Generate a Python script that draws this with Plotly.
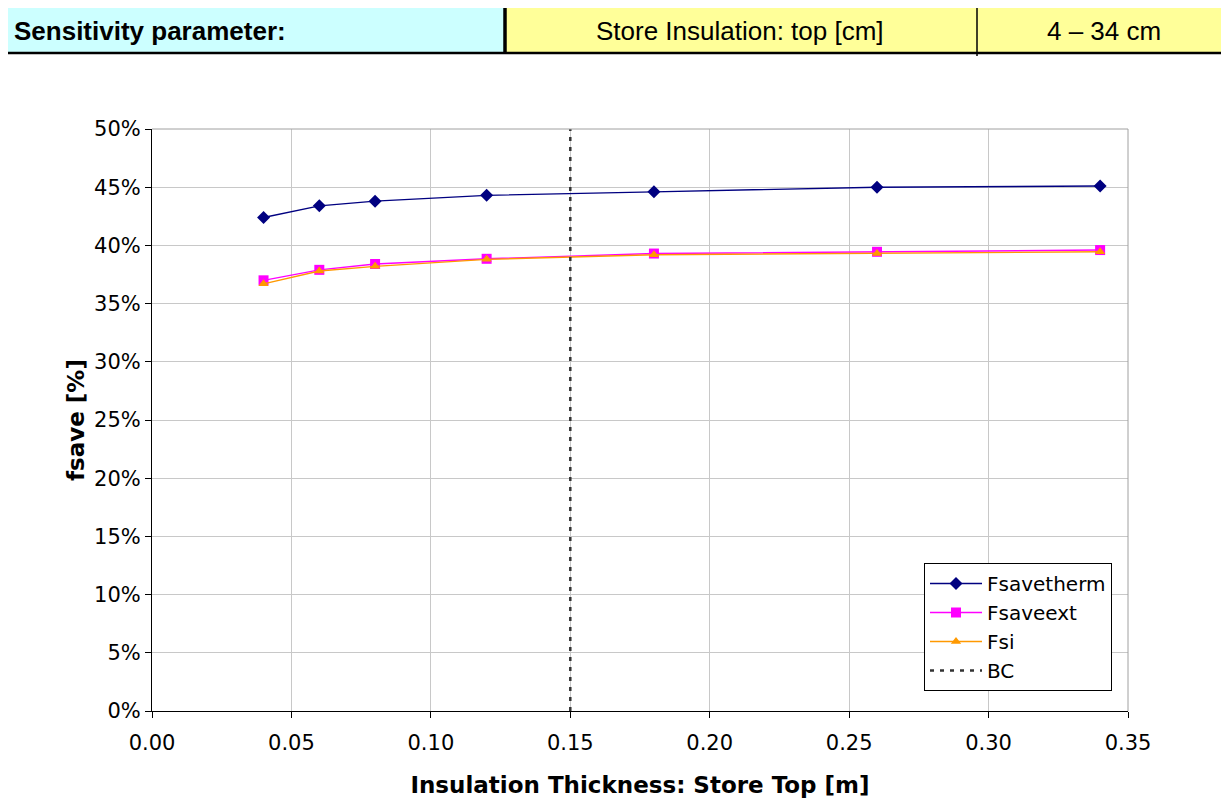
import plotly.graph_objects as go

thickness = [0.04, 0.06, 0.08, 0.12, 0.18, 0.26, 0.34]
fsavetherm = [0.424, 0.434, 0.438, 0.443, 0.446, 0.450, 0.451]
fsaveext = [0.370, 0.379, 0.384, 0.3885, 0.393, 0.3945, 0.396]
fsi = [0.367, 0.378, 0.382, 0.388, 0.392, 0.393, 0.3945]
bc_x = [0.15, 0.15]
bc_y = [0.0, 0.5]

header_labels = ["Sensitivity parameter:", "Store Insulation: top [cm]", "4 – 34 cm"]

OFF = 8  # page body margin
W, H = 1229 - OFF, 800 - OFF
L, R, T, B = 152, 1128, 129, 711  # plot area in screenshot pixels

def px(x):
    return (x - L) / (R - L)

def py(y):
    return (B - y) / (B - T)

fig = go.Figure()
fig.add_trace(go.Scatter(x=thickness, y=fsavetherm, name="Fsavetherm", mode="lines+markers",
                         line=dict(color="#000080", width=1.4),
                         marker=dict(symbol="diamond", size=10, color="#000080")))
fig.add_trace(go.Scatter(x=thickness, y=fsaveext, name="Fsaveext", mode="lines+markers",
                         line=dict(color="#FF00FF", width=1.4),
                         marker=dict(symbol="square", size=10, color="#FF00FF")))
fig.add_trace(go.Scatter(x=thickness, y=fsi, name="Fsi", mode="lines+markers",
                         line=dict(color="#FF9900", width=1.4),
                         marker=dict(symbol="triangle-up", size=9, color="#FF9900")))
fig.add_trace(go.Scatter(x=bc_x, y=bc_y, name="BC", mode="lines",
                         line=dict(color="#333333", width=2.5, dash="4px,6px")))

tickfont = dict(family="DejaVu Sans", size=21, color="#000000")
titlefont = dict(family="DejaVu Sans", size=23, color="#000000")
hfont = dict(family="Liberation Sans", size=26, color="#000000")

shapes = [
    dict(type="rect", xref="paper", yref="paper", x0=px(5), x1=px(505), y0=py(53), y1=py(7),
         fillcolor="#CCFFFF", line=dict(width=0), layer="below"),
    dict(type="rect", xref="paper", yref="paper", x0=px(505), x1=px(1229), y0=py(53), y1=py(7),
         fillcolor="#FFFF99", line=dict(width=0), layer="below"),
    dict(type="line", xref="paper", yref="paper", x0=px(4), x1=px(1229), y0=py(6.5), y1=py(6.5),
         line=dict(color="#000000", width=1.5)),
    dict(type="line", xref="paper", yref="paper", x0=px(4), x1=px(1229), y0=py(53), y1=py(53),
         line=dict(color="#000000", width=2.5)),
    dict(type="line", xref="paper", yref="paper", x0=px(4.5), x1=px(4.5), y0=py(6), y1=py(54),
         line=dict(color="#000000", width=1.5)),
    dict(type="line", xref="paper", yref="paper", x0=px(505), x1=px(505), y0=py(7), y1=py(53),
         line=dict(color="#000000", width=3.5)),
    dict(type="line", xref="paper", yref="paper", x0=px(977), x1=px(977), y0=py(6), y1=py(56),
         line=dict(color="#000000", width=1.5)),
    dict(type="line", xref="paper", yref="paper", x0=0, x1=1, y0=1, y1=1,
         line=dict(color="#A0A0A0", width=1)),
    dict(type="line", xref="paper", yref="paper", x0=1, x1=1, y0=0, y1=1,
         line=dict(color="#A0A0A0", width=1)),
]

annotations = [
    dict(text="<b>" + header_labels[0] + "</b>", xref="paper", yref="paper", x=px(12), y=py(31),
         xanchor="left", yanchor="middle", showarrow=False, font=hfont),
    dict(text=header_labels[1], xref="paper", yref="paper", x=px(740), y=py(31),
         xanchor="center", yanchor="middle", showarrow=False, font=hfont),
    dict(text=header_labels[2], xref="paper", yref="paper", x=px(1104), y=py(31),
         xanchor="center", yanchor="middle", showarrow=False, font=hfont),
]

fig.update_layout(
    width=W, height=H,
    margin=dict(l=L - OFF, r=W - (R - OFF), t=T - OFF, b=H - (B - OFF)),
    paper_bgcolor="#FFFFFF", plot_bgcolor="#FFFFFF",
    showlegend=True,
    legend=dict(x=px(924), y=py(563), xanchor="left", yanchor="top",
                bgcolor="#FFFFFF", bordercolor="#000000", borderwidth=1,
                font=dict(family="DejaVu Sans", size=20, color="#000000"),
                tracegroupgap=0, itemwidth=52),
    xaxis=dict(range=[0, 0.35], dtick=0.05, tickformat=".2f", automargin=False,
               showgrid=True, gridcolor="#C8C8C8", gridwidth=1,
               showline=True, linecolor="#000000", linewidth=1, mirror=False,
               ticks="outside", ticklen=6, tickcolor="#000000",
               tickfont=tickfont, zeroline=False, ticklabelstandoff=7,
               title=dict(text="<b>Insulation Thickness: Store Top [m]</b>",
                          font=titlefont, standoff=22)),
    yaxis=dict(range=[0, 0.5], dtick=0.05, tickformat=".0%", automargin=False,
               showgrid=True, gridcolor="#C8C8C8", gridwidth=1,
               showline=True, linecolor="#000000", linewidth=1,
               ticks="outside", ticklen=6, tickcolor="#000000",
               tickfont=tickfont, zeroline=False,
               title=dict(text="<b>fsave [%]</b>", font=titlefont, standoff=3)),
    shapes=shapes,
    annotations=annotations,
)

fig.write_html("out.html")
